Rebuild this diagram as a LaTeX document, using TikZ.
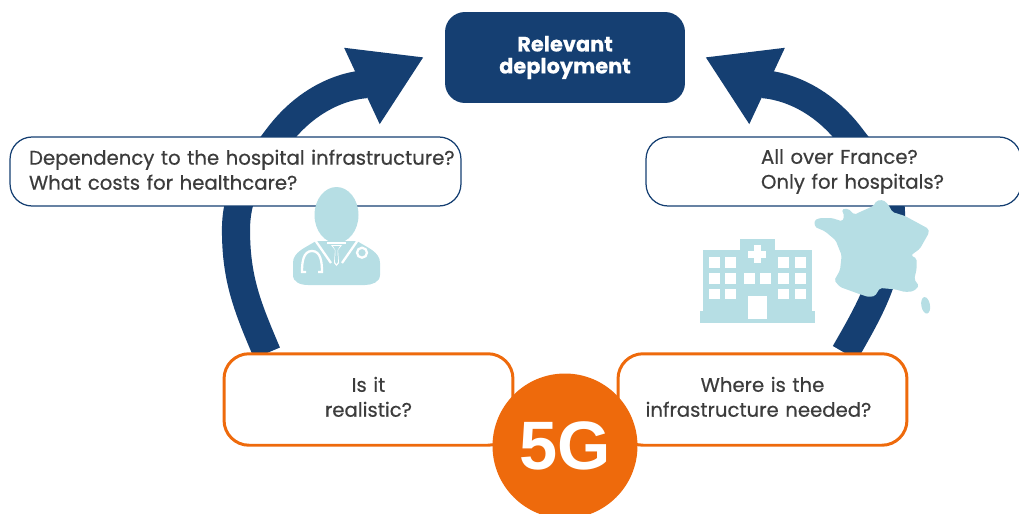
\documentclass[tikz,border=0pt]{standalone}
\usepackage{fontspec}
\setmainfont{Poppins}[FakeBold=0.5]
\newfontfamily\fivefont{Liberation Sans}
\usepackage{xcolor}
\usetikzlibrary{arrows.meta,backgrounds}
\definecolor{navy}{HTML}{153F72}
\definecolor{flame}{HTML}{EE6A0C}
\definecolor{ice}{HTML}{B6DEE4}
\definecolor{ink}{HTML}{3C3C3C}
\tikzset{
    question/.style={draw=navy, fill=white, line width=0.7pt, rounded corners=0.44cm, minimum height=1.38cm, text=ink, font=\fontsize{11.2}{14.2}\selectfont, align=left, inner sep=0pt},
    worry/.style={draw=flame, fill=white, line width=1.7pt, rounded corners=0.5cm, minimum height=1.83cm, text width=5.78cm, text=ink, font=\fontsize{11.2}{14.2}\selectfont, align=center, inner sep=0pt},
    loopline/.style={draw=navy, line width=16pt, -{Triangle[length=39pt,width=45pt]}},
    icon/.style={fill=ice, draw=none},
    gap/.style={fill=white, draw=none},
    wire/.style={draw=white, line width=1.3pt}
}
\begin{document}
\begin{tikzpicture}[x=0.02cm,y=-0.02cm]
                \useasboundingbox (0,0) rectangle (1019,514);

                \node[fill=navy, rounded corners=0.4cm, minimum width=4.8cm, minimum height=1.82cm, text=white, align=center, font=\fontsize{11.9}{12.5}\selectfont\bfseries, inner sep=0pt] (Deploy) at (565,57.5) {Relevant\\deployment};
                \node[question, text width=9.02cm] (Cost) at (235.5,171.5) {\hspace*{0.38cm}Dependency to the hospital infrastructure?\\\hspace*{0.38cm}What costs for healthcare?\par\vspace{2pt}};
                \node[question, text width=7.5cm] (Place) at (833.5,171.5) {\hspace*{2.3cm}All over France?\\\hspace*{2.3cm}Only for hospitals?};
                \node[worry] (Real) at (368.5,399.5) {Is it\\realistic?\par\vspace{3pt}};
                \node[worry] (Where) at (762.5,399.5) {Where is the\hspace*{0.16cm}\\infrastructure needed?\hspace*{0.16cm}\par\vspace{3pt}};
                \node[circle, fill=flame, minimum size=2.9cm, inner sep=0pt, text=white, font=\fontsize{39}{42}\fivefont\bfseries] (Five) at (565,446) {5G};

                \begin{scope}[on background layer]
                \coordinate (LeftFoot) at (267,353);
                \coordinate (LeftTip) at (424,57);
                \coordinate (LeftBend) at (236,230);
                \coordinate (LeftTop) at (278,137);
                \coordinate (RightFoot) at (845,353);
                \coordinate (RightTip) at (705,57);
                \coordinate (RightBend) at (891,215);
                \coordinate (RightTop) at (851,137);
                \draw[loopline] (LeftFoot) to [out=113,in=-90] (LeftBend) to [out=90,in=-127] (LeftTop) to [out=53,in=205] (LeftTip);
                \draw[loopline] (RightFoot) to [out=60,in=-90] (RightBend) to [out=90,in=-53] (RightTop) to [out=127,in=-25] (RightTip);
                \end{scope}

                \fill[icon] (293,263) .. controls (293,252) and (305,248) .. (316,241) -- (357,241) .. controls (368,248) and (380,252) .. (380,263) -- (380,275) .. controls (380,282) and (372,285) .. (365,285) -- (308,285) .. controls (300,285) and (293,282) .. (293,275) -- cycle;
                \draw[wire] (315,240) -- (331,263);
                \draw[wire] (358,240) -- (342,263);
                \fill[icon] (336.5,215) ellipse (22 and 28);
                \draw[wire] (327,243) -- (346,243);
                \fill[gap] (331,245) -- (342,245) -- (338,250) -- (339,263) -- (336.5,266) -- (334,263) -- (335,250) -- cycle;
                \fill[icon] (333,246) -- (340,246) -- (337.5,250) -- (338,262) -- (336.5,264) -- (335,262) -- (335.5,250) -- cycle;
                \draw[wire] (306,272) -- (302,272) to [out=90,in=180] (312,251) to [out=0,in=90] (322,272) -- (318,272);
                \draw[wire] (362,252.7) circle (5);

                \fill[icon] (703,250) rectangle (812,311);
                \fill[icon] (740,239) rectangle (775,250);
                \fill[icon] (700,311) rectangle (815,323);
                \fill[gap] (754,245) rectangle (761,263);
                \fill[gap] (748,251) rectangle (766,258);
                \fill[gap] (709,257) rectangle (720,268);
                \fill[gap] (725,257) rectangle (736,268);
                \fill[gap] (778,257) rectangle (789,268);
                \fill[gap] (795,257) rectangle (806,268);
                \fill[gap] (709,273) rectangle (720,284);
                \fill[gap] (725,273) rectangle (736,284);
                \fill[gap] (744,273) rectangle (755,284);
                \fill[gap] (760,273) rectangle (771,284);
                \fill[gap] (778,273) rectangle (789,284);
                \fill[gap] (795,273) rectangle (806,284);
                \fill[gap] (709,289) rectangle (720,299);
                \fill[gap] (725,289) rectangle (736,299);
                \fill[gap] (778,289) rectangle (789,299);
                \fill[gap] (795,289) rectangle (806,299);
                \fill[gap] (748,296) rectangle (767,319);

                \begin{scope}[shift={(805,192)},scale=0.3333]
                \fill[icon, rounded corners=1pt] (28,85) -- (45,78) -- (80,78) -- (112,88) -- (118,72) -- (110,52) -- (130,50) -- (148,68) -- (165,60) -- (205,42) -- (215,26) -- (235,24) -- (250,38) -- (262,60) -- (300,72) -- (370,110) -- (372,122) -- (345,170) -- (318,190) -- (335,200) -- (335,230) -- (328,262) -- (342,282) -- (325,298) -- (300,300) -- (270,292) -- (225,288) -- (210,312) -- (190,315) -- (160,305) -- (105,285) -- (88,265) -- (105,235) -- (110,190) -- (92,145) -- (60,118) -- (30,105) -- cycle;
                \fill[icon, rotate around={10:(362,340)}] (362,340) ellipse (13 and 25);
                \end{scope}
\end{tikzpicture}
\end{document}
